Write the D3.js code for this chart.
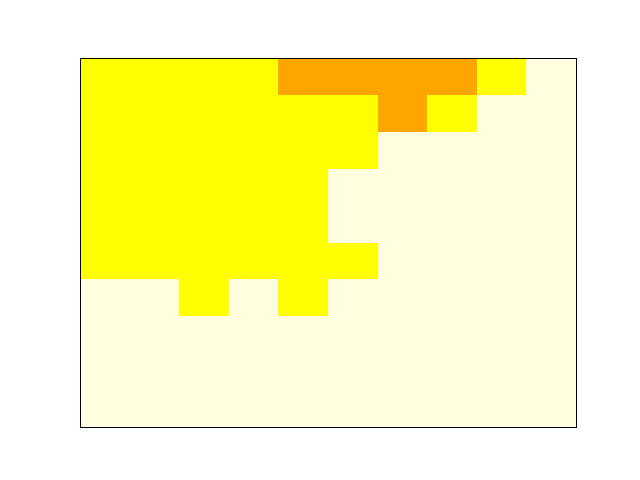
<!DOCTYPE html>
<html>
<head>
<meta charset="utf-8">
<script src="https://cdn.jsdelivr.net/npm/d3@7"></script>
<style>
html,body{margin:0;padding:0;background:#fff;}
svg{display:block;}
</style>
</head>
<body>
<svg id="chart" width="640" height="480"></svg>
<script>
// Grid values (0 = light, 1 = yellow, 2 = orange), top row first
const row0 = [1,1,1,1,2,2,2,2,1,0];
const row1 = [1,1,1,1,1,1,2,1,0,0];
const row2 = [1,1,1,1,1,1,0,0,0,0];
const row3 = [1,1,1,1,1,0,0,0,0,0];
const row4 = [1,1,1,1,1,0,0,0,0,0];
const row5 = [1,1,1,1,1,1,0,0,0,0];
const row6 = [0,0,1,0,1,0,0,0,0,0];
const row7 = [0,0,0,0,0,0,0,0,0,0];
const row8 = [0,0,0,0,0,0,0,0,0,0];
const row9 = [0,0,0,0,0,0,0,0,0,0];
const rows = [row0,row1,row2,row3,row4,row5,row6,row7,row8,row9];
const levels = [0,1,2];
const levelColors = ["#ffffe0","#ffff00","#ffa500"];

const mLeft = 80, mRight = 576, mTop = 58, mBottom = 427;
const svg = d3.select("#chart");
const nCols = row0.length;
const x = d3.scaleBand().domain(d3.range(nCols)).range([mLeft, mRight]).padding(0);
const y = d3.scaleBand().domain(d3.range(rows.length)).range([mTop, mBottom]).padding(0);
const color = d3.scaleOrdinal().domain(levels).range(levelColors);

const cells = [];
rows.forEach((r, i) => r.forEach((v, j) => cells.push({i, j, v})));

svg.append("g").selectAll("rect").data(cells).join("rect")
  .attr("x", d => x(d.j))
  .attr("y", d => y(d.i))
  .attr("width", x.bandwidth() + 0.5)
  .attr("height", y.bandwidth() + 0.5)
  .attr("fill", d => color(d.v))
  .attr("shape-rendering", "crispEdges");

svg.append("rect")
  .attr("x", mLeft).attr("y", mTop)
  .attr("width", mRight - mLeft).attr("height", mBottom - mTop)
  .attr("fill", "none").attr("stroke", "#000").attr("stroke-width", 1)
  .attr("shape-rendering", "crispEdges");
</script>
</body>
</html>
